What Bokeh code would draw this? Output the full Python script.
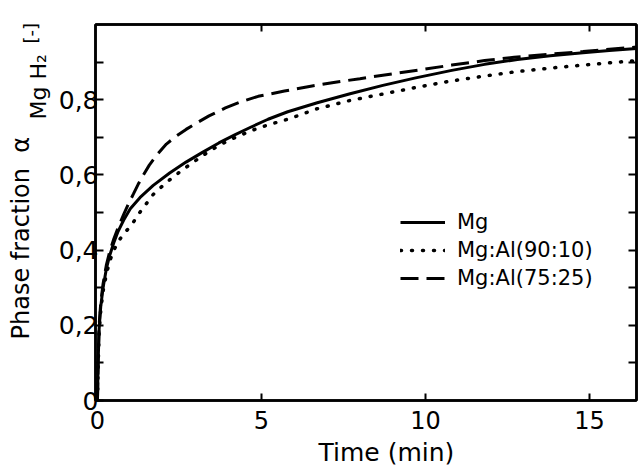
import math
from bokeh.plotting import figure
from bokeh.models import LinearAxis, FixedTicker, Legend, LegendItem, Title, Range1d
from bokeh.embed import file_html
from bokeh.resources import INLINE

# ---- data ----
series_names = ["Mg", "Mg:Al(90:10)", "Mg:Al(75:25)"]

time_mg = [0, 0.02, 0.05, 0.1, 0.17, 0.27, 0.37, 0.5, 0.63, 0.8, 1.0, 1.3, 1.7,
           2.2, 2.7, 3.2, 3.7, 4.2, 4.7, 5.2, 5.8, 6.7, 7.7, 8.7, 9.7, 10.8,
           11.8, 12.8, 13.8, 14.8, 15.6, 16.43]
alpha_mg = [0, 0.10, 0.19, 0.25, 0.30, 0.35, 0.385, 0.42, 0.45, 0.48, 0.51, 0.54,
            0.572, 0.605, 0.634, 0.66, 0.685, 0.707, 0.728, 0.748, 0.768, 0.792,
            0.816, 0.838, 0.858, 0.878, 0.894, 0.907, 0.917, 0.925, 0.931, 0.936]

time_9010 = [0, 0.02, 0.05, 0.1, 0.17, 0.27, 0.37, 0.5, 0.65, 0.82, 1.04, 1.29,
             1.7, 2.1, 2.6, 3.2, 3.6, 4.0, 4.7, 5.2, 5.8, 6.7, 7.7, 8.75, 9.8,
             10.8, 11.8, 12.8, 13.8, 14.8, 15.6, 16.43]
alpha_9010 = [0, 0.09, 0.18, 0.24, 0.29, 0.335, 0.37, 0.40, 0.425, 0.445, 0.467,
              0.50, 0.548, 0.58, 0.614, 0.651, 0.673, 0.692, 0.718, 0.733, 0.748,
              0.776, 0.798, 0.816, 0.834, 0.85, 0.863, 0.875, 0.884, 0.892, 0.898,
              0.904]

time_7525 = [0, 0.02, 0.05, 0.1, 0.17, 0.27, 0.37, 0.5, 0.63, 0.8, 0.93, 1.1,
             1.24, 1.4, 1.58, 1.8, 2.1, 2.4, 2.7, 3.0, 3.4, 3.9, 4.35, 4.9, 5.7,
             6.5, 7.3, 8.0, 9.0, 9.8, 10.8, 11.8, 12.7, 13.5, 14.8, 15.6, 16.43]
alpha_7525 = [0, 0.10, 0.20, 0.26, 0.31, 0.36, 0.395, 0.43, 0.46, 0.495, 0.52,
              0.55, 0.575, 0.60, 0.626, 0.652, 0.682, 0.703, 0.721, 0.737, 0.757,
              0.778, 0.794, 0.809, 0.823, 0.836, 0.847, 0.856, 0.869, 0.879,
              0.892, 0.904, 0.913, 0.919, 0.928, 0.934, 0.94]

x_ticks = [0, 5, 10, 15]
y_ticks = [0, 0.2, 0.4, 0.6, 0.8]
y_minor_ticks = [0.1, 0.3, 0.5, 0.7, 0.9]
y_tick_labels = ["0", "0,2", "0,4", "0,6", "0,8"]
right_ticks = [0.1, 0.2, 0.3, 0.4, 0.5, 0.6, 0.7, 0.8, 0.9]
top_ticks = [5, 10, 15]

FONT = "DejaVu Sans"

p = figure(width=638, height=470, output_backend="svg", toolbar_location=None,
           x_range=Range1d(-0.06, 16.43), y_range=Range1d(0, 1.0),
           min_border_left=95, min_border_right=2, min_border_top=24,
           min_border_bottom=66)
p.grid.visible = False
p.background_fill_color = "white"
p.border_fill_color = "white"
p.outline_line_color = "black"
p.outline_line_width = 2.5

xa = p.xaxis[0]
xa.ticker = FixedTicker(ticks=x_ticks)
xa.major_tick_in = 7
xa.major_tick_out = 0
xa.minor_tick_in = 0
xa.minor_tick_out = 0
xa.major_tick_line_width = 2
xa.axis_line_width = 2.5
xa.major_label_text_font = FONT
xa.major_label_text_font_size = "24px"
xa.major_label_text_color = "black"
xa.major_label_standoff = 10

ya = p.yaxis[0]
ya.ticker = FixedTicker(ticks=y_ticks, minor_ticks=y_minor_ticks)
ya.major_label_overrides = {t: s for t, s in zip(y_ticks, y_tick_labels)}
ya.major_tick_in = 8
ya.major_tick_out = 0
ya.minor_tick_in = 8
ya.minor_tick_out = 0
ya.major_tick_line_width = 2
ya.minor_tick_line_width = 2
ya.axis_line_width = 2.5
ya.major_label_text_font = FONT
ya.major_label_text_font_size = "25px"
ya.major_label_text_color = "black"
ya.major_label_standoff = -3

ra = LinearAxis(ticker=FixedTicker(ticks=right_ticks), major_tick_in=8,
                major_tick_out=0, minor_tick_in=0, minor_tick_out=0,
                major_tick_line_width=2, axis_line_width=2.5,
                major_label_overrides={t: "" for t in right_ticks},
                major_label_text_font_size="0px", major_label_standoff=0)
p.add_layout(ra, "right")
ta = LinearAxis(ticker=FixedTicker(ticks=top_ticks), major_tick_in=7,
                major_tick_out=0, minor_tick_in=0, minor_tick_out=0,
                major_tick_line_width=2, axis_line_width=2.5,
                major_label_overrides={t: "" for t in top_ticks},
                major_label_text_font_size="0px", major_label_standoff=0)
p.add_layout(ta, "above")

r_mg = p.line(time_mg, alpha_mg, line_color="black", line_width=3)
r_9010 = p.line(time_9010, alpha_9010, line_color="black", line_width=3.5,
                line_dash="1 10", line_cap="round")
r_7525 = p.line(time_7525, alpha_7525, line_color="black", line_width=3,
                line_dash="18 8")

legend = Legend(items=[LegendItem(label=series_names[0], renderers=[r_mg]),
                       LegendItem(label=series_names[1], renderers=[r_9010]),
                       LegendItem(label=series_names[2], renderers=[r_7525])],
                location=(305, 108), border_line_color=None,
                background_fill_alpha=0, padding=0, margin=0, spacing=0,
                glyph_width=45, glyph_height=28, label_height=28,
                label_standoff=12, label_text_font=FONT,
                label_text_font_size="21px", label_text_color="black")
p.add_layout(legend)

def title(text, size, offset, standoff, side):
    t = Title(text=text, align="left", offset=offset, standoff=standoff,
              text_font=FONT, text_font_size=size, text_font_style="normal",
              text_color="black")
    p.add_layout(t, side)

# y-axis title pieces (inner column first)
title("Mg H₂", "22px", 281, 9, "left")
title("Phase fraction\u00a0\u00a0α", "24px", 61, -30, "left")
title("[-]", "18px", 357, -42, "left")
# x-axis title
title("Time (min)", "25px", 223, 8, "below")

open("out.html", "w").write(file_html(p, INLINE))
